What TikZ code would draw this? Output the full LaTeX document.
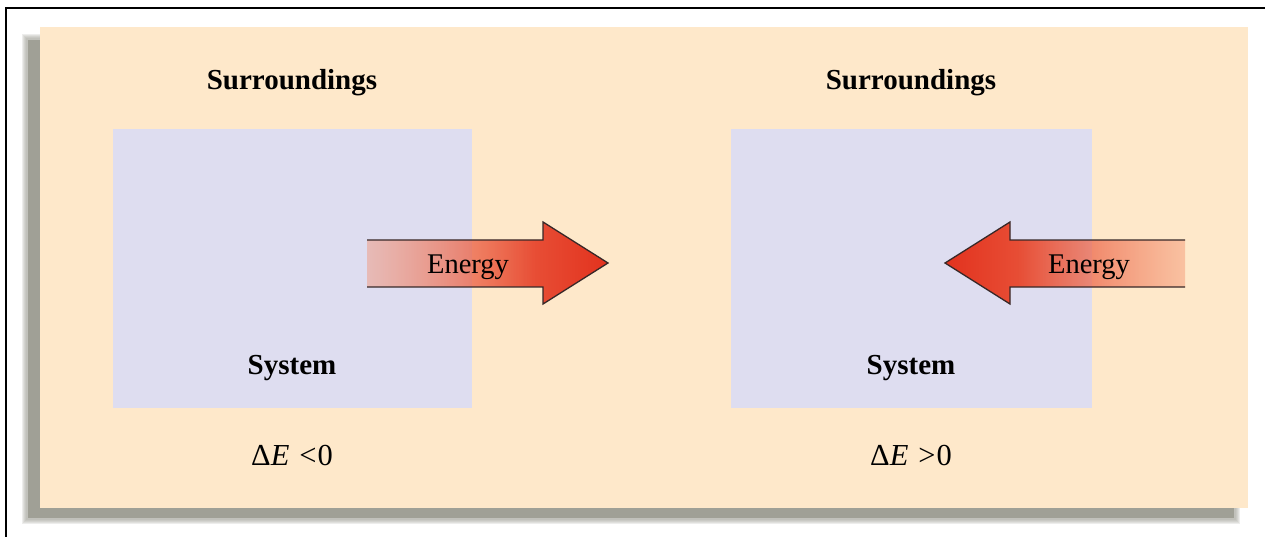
\documentclass[tikz,border=0pt]{standalone}
\usepackage{fontspec}
\setmainfont{Liberation Serif}
\usetikzlibrary{fadings}
\definecolor{panel}{RGB}{254,232,202}
\definecolor{sysbox}{RGB}{222,221,240}
\definecolor{shadowgray}{RGB}{160,160,150}
\definecolor{arrowlight}{RGB}{244,140,105}
\definecolor{arrowdark}{RGB}{226,50,30}
\definecolor{outlinecol}{RGB}{55,40,40}
\begin{tikzfadingfrompicture}[name=arrowfade]
\shade[left color=transparent!100, right color=transparent!0] (-50bp,-50bp) rectangle (10bp,50bp);
\fill[transparent!0] (10bp,-50bp) rectangle (50bp,50bp);
\end{tikzfadingfrompicture}
\tikzset{
  boldlbl/.style={font=\fontsize{29}{30}\selectfont\bfseries, inner sep=0pt, anchor=base},
  plainlbl/.style={font=\fontsize{28.5}{30}\selectfont, inner sep=0pt, anchor=base},
  mathlbl/.style={font=\fontsize{30.5}{32}\selectfont, inner sep=0pt, anchor=base},
  sysrect/.style={fill=sysbox, draw=none},
  arrowbody/.style={path fading=arrowfade, draw=none},
  arrowedge/.style={draw=outlinecol, line width=1.3pt, line join=miter}
}
\begin{document}
\begin{tikzpicture}[x=1pt, y=-1pt]
\useasboundingbox (0,0) rectangle (1265,537);
\fill[white] (0,0) rectangle (1265,537);
% frame
\draw[black, line width=2.6pt] (6,537) -- (6,8) -- (1265,8);
% shadow
\foreach \i in {1,...,5} {
  \fill[shadowgray, opacity=0.18] (27-\i,39-\i) rectangle (1235+\i,519+\i);
}
\fill[shadowgray] (28,40) rectangle (1234,518);
% panel
\fill[panel] (40,27) rectangle (1248,508);
% systems
\fill[sysrect] (113,129) rectangle (472,408);
\fill[sysrect] (731,129) rectangle (1092,408);
% left arrow (outgoing)
\coordinate (la1) at (367,240);
\coordinate (la2) at (543,240);
\coordinate (la3) at (543,222);
\coordinate (latip) at (608,263);
\coordinate (la5) at (543,304);
\coordinate (la6) at (543,287);
\coordinate (la7) at (367,287);
\shade[arrowbody, left color=arrowlight, right color=arrowdark]
  (la1) -- (la2) -- (la3) -- (latip) -- (la5) -- (la6) -- (la7) -- cycle;
\draw[arrowedge] (la1) -- (la2) -- (la3) -- (latip) -- (la5) -- (la6) -- (la7);
% right arrow (incoming)
\coordinate (ra1) at (1185,240);
\coordinate (ra2) at (1010,240);
\coordinate (ra3) at (1010,222);
\coordinate (ratip) at (945,263);
\coordinate (ra5) at (1010,304);
\coordinate (ra6) at (1010,287);
\coordinate (ra7) at (1185,287);
\shade[arrowbody, fading angle=180, left color=arrowdark, right color=arrowlight]
  (ra1) -- (ra2) -- (ra3) -- (ratip) -- (ra5) -- (ra6) -- (ra7) -- cycle;
\draw[arrowedge] (ra1) -- (ra2) -- (ra3) -- (ratip) -- (ra5) -- (ra6) -- (ra7);
% labels
\node[boldlbl] (surrL) at (292,90) {Surroundings};
\node[boldlbl] (surrR) at (911,90) {Surroundings};
\node[boldlbl] (sysL) at (292,374) {System};
\node[boldlbl] (sysR) at (911,374) {System};
\node[plainlbl] (enL) at (468,273) {Energy};
\node[plainlbl] (enR) at (1089,273) {Energy};
\node[mathlbl] (dEL) at (292,465) {Δ\textit{E}\hspace{10pt}<\kern1pt0};
\node[mathlbl] (dER) at (911,465) {Δ\textit{E}\hspace{10pt}>\kern1pt0};
\end{tikzpicture}
\end{document}
